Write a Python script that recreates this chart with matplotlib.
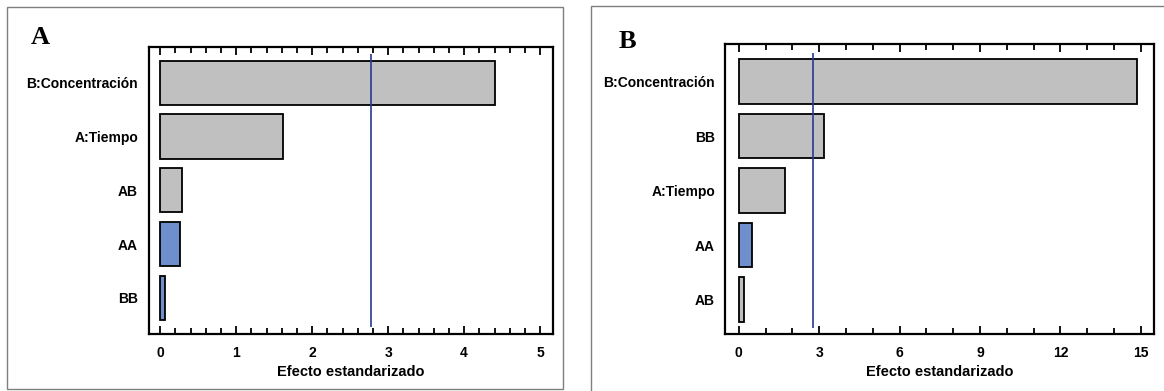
import numpy as np
import matplotlib.pyplot as plt
from matplotlib.patches import Rectangle
from matplotlib.ticker import MultipleLocator

# Pareto charts of standardized effects
labels_a = ['B:Concentración', 'A:Tiempo', 'AB', 'AA', 'BB']
effects_a = [4.40, 1.62, 0.28, 0.26, 0.06]
signs_a = ['+', '+', '+', '-', '-']
limit_a = 2.78

labels_b = ['B:Concentración', 'BB', 'A:Tiempo', 'AA', 'AB']
effects_b = [14.87, 3.18, 1.73, 0.50, 0.21]
signs_b = ['+', '+', '+', '-', '+']
limit_b = 2.75

GRAY = '#c0c0c0'
BLUE = '#6f8fcc'
LINE = '#2b3990'

plt.rcParams['font.family'] = ['Liberation Sans', 'DejaVu Sans']

W, H = 1164, 391
fig = plt.figure(figsize=(W / 100, H / 100), dpi=100)


def px_axes(left, top, right, bottom):
    return fig.add_axes([left / W, 1 - bottom / H, (right - left) / W, (bottom - top) / H])


def frame(x0, y0, x1, y1):
    fig.patches.append(Rectangle((x0 / W, 1 - y1 / H), (x1 - x0) / W, (y1 - y0) / H,
                                 transform=fig.transFigure, fill=False,
                                 edgecolor='#7f7f7f', linewidth=1.0))


def pareto(ax, labels, effects, signs, limit, xlim, ylim, major, minor, vl):
    y = np.arange(len(labels))
    colors = [GRAY if s == '+' else BLUE for s in signs]
    ax.barh(y, effects, height=0.82, color=colors, edgecolor='black', linewidth=1.3)
    ax.vlines(limit, vl[0], vl[1], color=LINE, linewidth=1.2)
    ax.set_xlim(*xlim)
    ax.set_ylim(*ylim)
    ax.set_yticks(y)
    ax.set_yticklabels(labels, fontsize=10, fontweight='bold')
    ax.xaxis.set_major_locator(MultipleLocator(major))
    ax.xaxis.set_minor_locator(MultipleLocator(minor))
    ax.tick_params(axis='x', which='both', direction='in', top=True, bottom=True,
                   width=1.3, labelsize=10, pad=8.5)
    ax.tick_params(axis='x', which='major', length=6)
    ax.tick_params(axis='x', which='minor', length=4)
    ax.tick_params(axis='y', length=0, pad=7.5)
    for lbl in ax.get_xticklabels():
        lbl.set_fontweight('bold')
    for sp in ax.spines.values():
        sp.set_linewidth(1.6)
    ax.set_xlabel('Efecto estandarizado', fontsize=10.5, fontweight='bold', labelpad=4)


frame(7, 7, 563, 389)
frame(591, 6, 1175, 400)

ax_a = px_axes(148.5, 46.7, 553, 334)
pareto(ax_a, labels_a, effects_a, signs_a, limit_a, (-0.155, 5.17), (4.67, -0.67),
       1, 0.2, (-0.54, 4.54))

ax_b = px_axes(725.4, 44, 1154, 334)
pareto(ax_b, labels_b, effects_b, signs_b, limit_b, (-0.5, 15.49), (4.63, -0.69),
       3, 1, (-0.53, 4.52))

fig.text(40 / W, 1 - 38 / H, 'A', fontsize=19, fontweight='bold',
         family=['Liberation Serif', 'DejaVu Serif'], ha='center', va='center')
fig.text(627 / W, 1 - 41 / H, 'B', fontsize=19, fontweight='bold',
         family=['Liberation Serif', 'DejaVu Serif'], ha='center', va='center')

fig.savefig('out.png', dpi=100)
